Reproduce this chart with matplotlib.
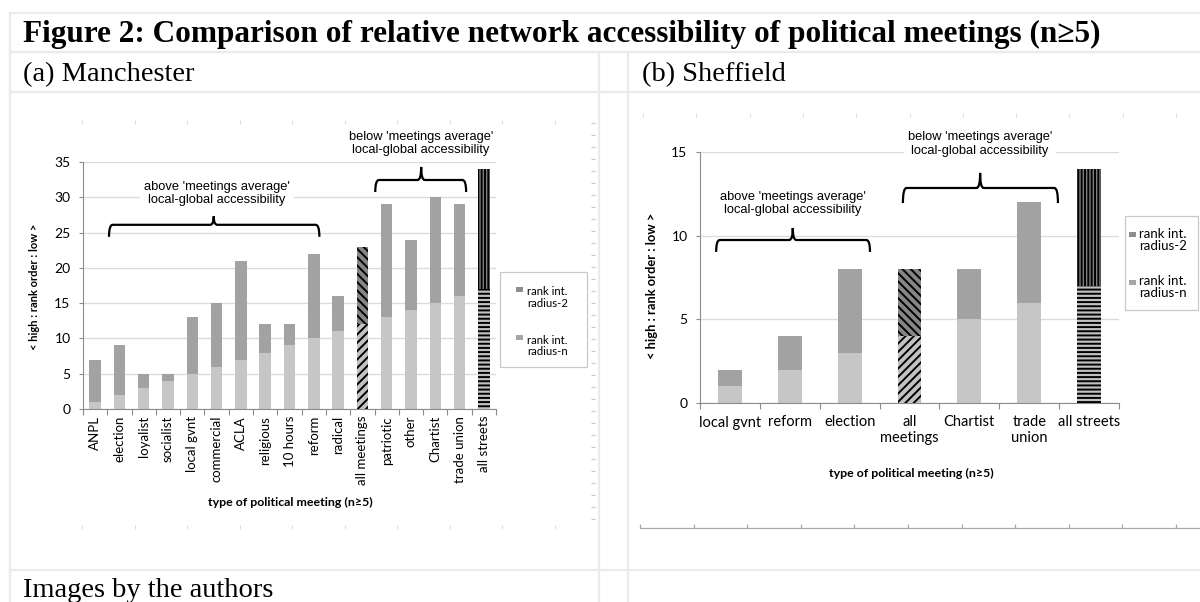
import matplotlib.pyplot as plt
from matplotlib.patches import PathPatch, Rectangle
from matplotlib.path import Path
from matplotlib.lines import Line2D
import numpy as np

plt.rcParams['hatch.linewidth'] = 1.4

# (a) Manchester
man_types = ['ANPL', 'election', 'loyalist', 'socialist', 'local gvnt', 'commercial', 'ACLA',
             'religious', '10 hours', 'reform', 'radical', 'all meetings', 'patriotic', 'other',
             'Chartist', 'trade union', 'all streets']
man_radius_n = [1, 2, 3, 4, 5, 6, 7, 8, 9, 10, 11, 12, 13, 14, 15, 16, 17]
man_radius_2 = [6, 7, 2, 1, 8, 9, 14, 4, 3, 12, 5, 11, 16, 10, 15, 13, 17]

# (b) Sheffield
she_types = ['local gvnt', 'reform', 'election', 'all\nmeetings', 'Chartist', 'trade\nunion', 'all streets']
she_radius_n = [1, 2, 3, 4, 5, 6, 7]
she_radius_2 = [1, 2, 5, 4, 3, 6, 7]

leg_labels = ['rank int.\nradius-2', 'rank int.\nradius-n']

LIGHT = '#c6c6c6'
DARK = '#a2a2a2'
GRID = '#dcdcdc'
AXC = '#8c8c8c'
SANS = ['Lato', 'DejaVu Sans']
ARIAL = ['Liberation Sans', 'DejaVu Sans']
SERIF = ['Liberation Serif', 'DejaVu Serif']

W, H = 1200, 602
fig = plt.figure(figsize=(W / 100, H / 100), dpi=100)


def fx(px):
    return px / W


def fy(py):
    return 1 - py / H


def brace(ax, x0, x1, xm, y, yend, ypeak, r):
    verts = [(x0, yend), (x0, y), (x0 + r, y), (xm - r, y), (xm, y), (xm, ypeak),
             (xm, y), (xm + r, y), (x1 - r, y), (x1, y), (x1, yend)]
    codes = [Path.MOVETO, Path.CURVE3, Path.CURVE3, Path.LINETO, Path.CURVE3, Path.CURVE3,
             Path.CURVE3, Path.CURVE3, Path.LINETO, Path.CURVE3, Path.CURVE3]
    ax.add_patch(PathPatch(Path(verts, codes), facecolor='none', edgecolor='black',
                           lw=1.6, clip_on=False, zorder=5))


def draw_panel(ax, types, rn, r2, ymax, width, xfs, yfs, rot, xpad):
    x = np.arange(len(types))
    ax.bar(x, rn, width, color=LIGHT, zorder=2)
    ax.bar(x, r2, width, bottom=rn, color=DARK, zorder=2)
    for i, t in enumerate(types):
        key = t.replace('\n', ' ')
        if key == 'all meetings':
            ax.bar(x[i], rn[i], width, facecolor='#c2c2c2', edgecolor='black', hatch='////', lw=0, zorder=3)
            ax.bar(x[i], r2[i], width, bottom=rn[i], facecolor='#858585', edgecolor='black',
                   hatch='\\\\\\\\', lw=0, zorder=3)
        if key == 'all streets':
            ax.bar(x[i], rn[i], width, facecolor='#c0c0c0', edgecolor='black', hatch='----', lw=0, zorder=3)
            ax.bar(x[i], r2[i], width, bottom=rn[i], facecolor='#808080', edgecolor='black',
                   hatch='|||||', lw=0, zorder=3)
    ax.set_xlim(-0.5, len(types) - 0.5)
    ax.set_ylim(0, ymax)
    ax.set_yticks(np.arange(0, ymax + 1, 5))
    ax.set_xticks(x)
    ax.set_xticks(np.arange(len(types) + 1) - 0.5, minor=True)
    ax.set_xticklabels(types, rotation=rot, fontsize=xfs, family=SANS, linespacing=1.15)
    ax.tick_params(axis='x', which='major', length=0, pad=xpad)
    ax.tick_params(axis='x', which='minor', length=4, color=AXC, width=0.8)
    ax.tick_params(axis='y', length=3, color=AXC, width=0.8, pad=6, labelsize=yfs)
    for lab in ax.get_yticklabels():
        lab.set_family(SANS)
    for s in ['top', 'right']:
        ax.spines[s].set_visible(False)
    for s in ['left', 'bottom']:
        ax.spines[s].set_color(AXC)
        ax.spines[s].set_linewidth(0.8)
    ax.yaxis.grid(True, color=GRID, lw=1.0)
    ax.set_axisbelow(True)


def note(ax, x, y, s):
    ax.text(x, y, s, ha='center', va='center', fontsize=9.3, family=ARIAL, linespacing=1.15,
            clip_on=False, zorder=4,
            bbox=dict(facecolor='white', edgecolor='none', pad=3))


def legend_box(x0, y0, w, h, mx, tx, rows, fs):
    fig.add_artist(Rectangle((fx(x0), fy(y0 + h)), w / W, h / H, transform=fig.transFigure,
                             facecolor='white', edgecolor='#c8c8c8', lw=0.9, zorder=6))
    for (my, ty), lab, c in zip(rows, leg_labels, ['#8e8e8e', '#a6a6a6']):
        fig.add_artist(Rectangle((fx(mx), fy(my + 2.5)), 6.5 / W, 5 / H, transform=fig.transFigure,
                                 facecolor=c, edgecolor='none', zorder=7))
        fig.text(fx(tx), fy(ty), lab, fontsize=fs, family=SANS, va='center', ha='left',
                 linespacing=1.05, zorder=7)


# Manchester
ax1 = fig.add_axes([fx(83), fy(409), (496 - 83) / W, (409 - 162) / H])
draw_panel(ax1, man_types, man_radius_n, man_radius_2, 35, 0.47, 9.5, 10, 90, 5)
note(ax1, 5.0, 30.5, "above 'meetings average'\nlocal-global accessibility")
brace(ax1, 0.57, 9.23, 4.88, 26.1, 24.4, 27.3, 0.15)
note(ax1, 13.42, 37.6, "below 'meetings average'\nlocal-global accessibility")
brace(ax1, 11.53, 15.27, 13.42, 32.45, 30.75, 34.3, 0.15)
fig.text(fx(35), fy(287), '< high : rank order : low >', rotation=90, ha='center', va='center',
         fontsize=8, weight='bold', family=SANS)
fig.text(fx(290), fy(502), 'type of political meeting (n\u22655)', ha='center', va='center',
         fontsize=8.9, weight='bold', family=SANS)
legend_box(500, 272, 87, 95, 516, 527, [(289.5, 297.5), (337, 346)], 8.2)

# Sheffield
ax2 = fig.add_axes([fx(700), fy(403), (1119 - 700) / W, (403 - 152) / H])
draw_panel(ax2, she_types, she_radius_n, she_radius_2, 15, 0.4, 10.5, 10, 0, 9)
note(ax2, 1.05, 11.92, "above 'meetings average'\nlocal-global accessibility")
brace(ax2, -0.23, 2.34, 1.05, 9.74, 9.03, 10.46, 0.06)
note(ax2, 4.18, 15.48, "below 'meetings average'\nlocal-global accessibility")
brace(ax2, 2.89, 5.48, 4.18, 12.85, 11.95, 13.75, 0.06)
fig.text(fx(652), fy(286), '< high : rank order : low >', rotation=90, ha='center', va='center',
         fontsize=9.3, weight='bold', family=SANS)
fig.text(fx(911), fy(473), 'type of political meeting (n\u22655)', ha='center', va='center',
         fontsize=8.9, weight='bold', family=SANS)
legend_box(1125, 216, 73, 94, 1129, 1139, [(234.5, 240), (282, 287)], 9.5)

# faint sheet marks
fig.add_artist(Line2D([fx(593)] * 34, [fy(123 + 12 * k) for k in range(34)], ls='none',
                      marker='_', ms=3, color='#c8c8c8', mew=0.8))
for yy in [122, 527]:
    fig.add_artist(Line2D([fx(82 + 52.5 * k) for k in range(10)], [fy(yy)] * 10, ls='none',
                          marker='|', ms=3, color='#dddddd', mew=0.8))
fig.add_artist(Line2D([fx(643 + 53.3 * k) for k in range(11)], [fy(115)] * 11, ls='none',
                      marker='|', ms=3, color='#dddddd', mew=0.8))
fig.add_artist(Line2D([fx(640), fx(1200)], [fy(528)] * 2, color='#a8a8a8', lw=0.9))
fig.add_artist(Line2D([fx(640 + 53.6 * k) for k in range(11)], [fy(526)] * 11, ls='none',
                      marker='|', ms=3.5, color='#a8a8a8', mew=0.9))

# table grid
TC = '#ebebeb'
for yy in [13, 52, 92, 570]:
    fig.add_artist(Line2D([fx(10), 1], [fy(yy)] * 2, color=TC, lw=1.6))
fig.add_artist(Line2D([fx(10)] * 2, [fy(13), 0], color=TC, lw=1.6))
for xx in [599, 628]:
    fig.add_artist(Line2D([fx(xx)] * 2, [fy(52), 0], color=TC, lw=1.6))

fig.text(fx(23), fy(42), 'Figure 2: Comparison of relative network accessibility of political meetings (n\u22655)',
         fontsize=22.5, weight='bold', family=SERIF, va='baseline')
fig.text(fx(23), fy(81), '(a) Manchester', fontsize=20.5, family=SERIF, va='baseline')
fig.text(fx(642), fy(81), '(b) Sheffield', fontsize=20.5, family=SERIF, va='baseline')
fig.text(fx(23), fy(597), 'Images by the authors', fontsize=20.5, family=SERIF, va='baseline')

fig.savefig('out.png', dpi=100)
